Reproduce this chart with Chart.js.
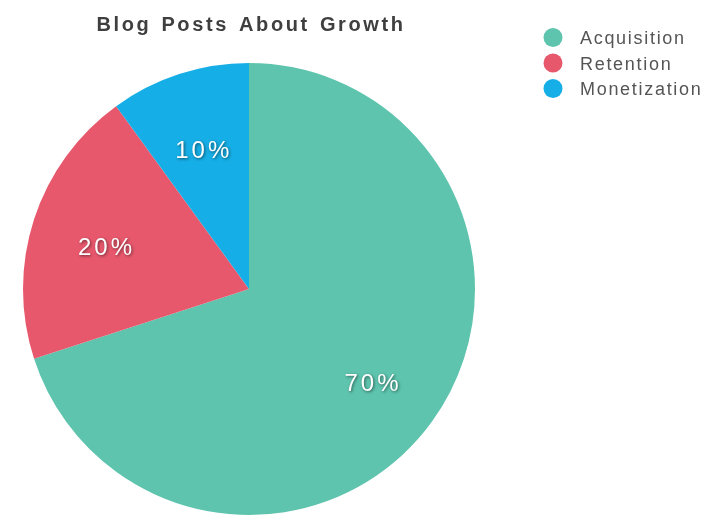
<!DOCTYPE html>
<html>
<head>
<meta charset="utf-8">
<title>Blog Posts About Growth</title>
<script src="https://cdn.jsdelivr.net/npm/chart.js@4"></script>
<style>
  html, body { margin: 0; padding: 0; background: #fff; overflow: hidden; }
  canvas { display: block; }
</style>
</head>
<body>
<canvas id="growthPie" width="710" height="515"></canvas>
<script>
/* data */
const titleText = 'Blog Posts About Growth';
const categories = ['Acquisition', 'Retention', 'Monetization'];
const shares = [70, 20, 10];
const sliceColors = ['#5ec4ae', '#e8586d', '#16aee6'];

/* title + legend drawn by hand so the pie keeps its place */
const decorations = {
    id: 'decorations',
    afterDraw(chart) {
        const c = chart.ctx;
        c.save();
        c.fillStyle = '#3f3f3f';
        c.font = 'bold 20px "Liberation Sans", Arial, sans-serif';
        c.letterSpacing = '2.6px';
        c.wordSpacing = '2px';
        c.textAlign = 'center';
        c.textBaseline = 'alphabetic';
        c.fillText(titleText, 251, 31);

        const labels = chart.data.labels;
        const colors = chart.data.datasets[0].backgroundColor;
        c.font = '18px "Liberation Sans", Arial, sans-serif';
        c.letterSpacing = '1.7px';
        c.wordSpacing = '0px';
        c.textAlign = 'left';
        c.textBaseline = 'alphabetic';
        labels.forEach((lbl, i) => {
            const y = 37.5 + i * 25.5;
            c.beginPath();
            c.arc(553, y, 9.5, 0, Math.PI * 2);
            c.fillStyle = colors[i];
            c.fill();
            c.fillStyle = '#555';
            c.fillText(lbl, 580, y + 6.5);
        });
        c.restore();
    }
};

/* percentage labels inside the slices */
const sliceLabels = {
    id: 'sliceLabels',
    afterDatasetsDraw(chart) {
        const c = chart.ctx;
        const meta = chart.getDatasetMeta(0);
        const values = chart.data.datasets[0].data;
        c.save();
        c.font = '24px "Liberation Sans", Arial, sans-serif';
        c.letterSpacing = '3px';
        c.textAlign = 'center';
        c.textBaseline = 'middle';
        c.fillStyle = '#fff';
        c.shadowColor = 'rgba(0,0,0,0.55)';
        c.shadowBlur = 3;
        c.shadowOffsetX = 1;
        c.shadowOffsetY = 1;
        meta.data.forEach((arc, i) => {
            const p = arc.getProps(['x', 'y', 'startAngle', 'endAngle', 'outerRadius'], true);
            const mid = (p.startAngle + p.endAngle) / 2;
            const r = p.outerRadius * 0.67;
            c.fillText(values[i] + '%', p.x + Math.cos(mid) * r + 1.5, p.y + Math.sin(mid) * r + 6);
        });
        c.restore();
    }
};

const ctx = document.getElementById('growthPie');

const data = {
    labels: categories,
    datasets: [
        {
            data: shares,
            backgroundColor: sliceColors,
            borderWidth: 0,
            hoverOffset: 0
        }
    ]
};

const config = {
    type: 'pie',
    data,
    options: {
        responsive: false,
        animation: false,
        layout: {
            padding: { left: 23, right: 235, top: 63, bottom: 0 }
        },
        plugins: {
            legend: { display: false },
            title: { display: false },
            tooltip: { enabled: false }
        }
    },
    plugins: [sliceLabels, decorations]
};

const chart = new Chart(ctx, config);
</script>
</body>
</html>
